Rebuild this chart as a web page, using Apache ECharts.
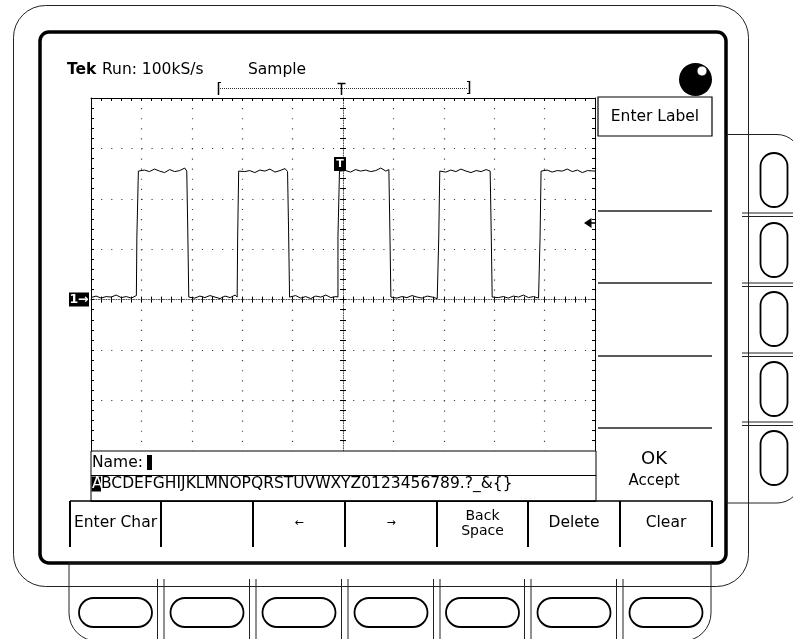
<!DOCTYPE html>
<html>
<head>
<meta charset="utf-8">
<script src="https://cdn.jsdelivr.net/npm/echarts@6/dist/echarts.min.js"></script>
<style>
  html, body { margin: 0; padding: 0; background: #fff; }
  #main { width: 793px; height: 639px; }
</style>
</head>
<body>
<div id="main"></div>
<script>
// trace samples: [time in divisions from centre, level in divisions above ground]
var tracePoints = [
  [-5.00, 0.04], [-4.90, 0.07], [-4.80, 0.03], [-4.70, 0.06], [-4.60, 0.05], [-4.50, 0.09], [-4.40, 0.04], [-4.30, 0.06], [-4.20, 0.03], [-4.10, 0.08],
  [-4.09, 0.05], [-4.09, 1.24], [-4.06, 1.24], [-4.06, 2.55],
  [-4.04, 2.53], [-3.94, 2.57], [-3.84, 2.54], [-3.74, 2.59], [-3.64, 2.55], [-3.54, 2.52], [-3.44, 2.58], [-3.34, 2.54], [-3.24, 2.56], [-3.14, 2.61], [-3.10, 2.55],
  [-3.08, 2.55], [-3.08, 1.38], [-3.06, 1.38], [-3.06, 0.05],
  [-3.04, 0.06], [-2.94, 0.03], [-2.84, 0.07], [-2.74, 0.04], [-2.64, 0.08], [-2.54, 0.05], [-2.44, 0.02], [-2.34, 0.07], [-2.24, 0.04], [-2.14, 0.09], [-2.10, 0.05],
  [-2.09, 0.05], [-2.09, 1.24], [-2.07, 1.24], [-2.07, 2.55],
  [-2.05, 2.58], [-1.95, 2.54], [-1.85, 2.56], [-1.75, 2.52], [-1.65, 2.57], [-1.55, 2.55], [-1.45, 2.59], [-1.35, 2.53], [-1.25, 2.56], [-1.15, 2.60], [-1.10, 2.54],
  [-1.08, 2.54], [-1.08, 1.38], [-1.06, 1.38], [-1.06, 0.05],
  [-1.04, 0.04], [-0.94, 0.08], [-0.84, 0.03], [-0.74, 0.06], [-0.64, 0.02], [-0.54, 0.07], [-0.44, 0.05], [-0.34, 0.09], [-0.24, 0.04], [-0.14, 0.06], [-0.11, 0.03],
  [-0.10, 0.05], [-0.10, 1.24], [-0.07, 1.24], [-0.07, 2.55],
  [-0.05, 2.52], [0.05, 2.56], [0.15, 2.53], [0.25, 2.58], [0.35, 2.55], [0.45, 2.57], [0.55, 2.54], [0.65, 2.56], [0.75, 2.61], [0.85, 2.55], [0.91, 2.58],
  [0.93, 2.58], [0.93, 1.38], [0.95, 1.38], [0.95, 0.05],
  [0.97, 0.07], [1.07, 0.03], [1.17, 0.06], [1.27, 0.04], [1.37, 0.08], [1.47, 0.05], [1.57, 0.03], [1.67, 0.07], [1.77, 0.05], [1.87, 0.02], [1.89, 0.04],
  [1.90, 0.05], [1.90, 1.24], [1.92, 1.24], [1.92, 2.55],
  [1.94, 2.56], [2.04, 2.53], [2.14, 2.57], [2.24, 2.54], [2.34, 2.59], [2.44, 2.55], [2.54, 2.52], [2.64, 2.56], [2.74, 2.54], [2.84, 2.58], [2.92, 2.55],
  [2.94, 2.55], [2.94, 1.38], [2.96, 1.38], [2.96, 0.05],
  [2.98, 0.08], [3.08, 0.04], [3.18, 0.06], [3.28, 0.03], [3.38, 0.07], [3.48, 0.05], [3.58, 0.09], [3.68, 0.04], [3.78, 0.06], [3.88, 0.03], [3.90, 0.05],
  [3.91, 0.05], [3.91, 1.24], [3.93, 1.24], [3.93, 2.55],
  [3.95, 2.54], [4.05, 2.57], [4.15, 2.53], [4.25, 2.56], [4.35, 2.55], [4.45, 2.59], [4.55, 2.54], [4.65, 2.57], [4.75, 2.52], [4.85, 2.56], [5.00, 2.55]
];
// graticule: 10 x 8 divisions, 5 minor ticks per division
var timeRange = [-5, 5];
var levelRange = [-4, 4];
// menu texts
var headerTexts = ['Tek', 'Run: 100kS/s', 'Sample'];
var sideMenuTop = 'Enter Label';
var sideMenuBottom = ['OK', 'Accept'];
var nameLabel = 'Name:';
var charset = 'ABCDEFGHIJKLMNOPQRSTUVWXYZ0123456789.?_&{}';
var bottomMenu = ['Enter Char', '', '\u2190', '\u2192', 'Back\nSpace', 'Delete', 'Clear'];

var FONT = '"DejaVu Sans", sans-serif';
var Z = 100;
var els = [];

function rect(x, y, w, h, r, stroke, lw, fill) {
  els.push({ type: 'rect', z: Z, silent: true,
    shape: { x: x, y: y, width: w, height: h, r: r || 0 },
    style: { stroke: stroke || 'none', lineWidth: lw || 1, fill: fill || 'none' } });
}
function line(x1, y1, x2, y2, lw, color, dash) {
  els.push({ type: 'line', z: Z, silent: true,
    shape: { x1: x1, y1: y1, x2: x2, y2: y2 },
    style: { stroke: color || '#000', lineWidth: lw || 1, lineDash: dash || null } });
}
function text(t, x, y, size, align, color, weight) {
  els.push({ type: 'text', z: Z, silent: true,
    style: { text: t, x: x, y: y, fill: color || '#000',
      font: (weight || 'normal') + ' ' + size + 'px ' + FONT,
      textAlign: align || 'left', align: align || 'left',
      textVerticalAlign: 'middle', verticalAlign: 'middle' } });
}

// outer bezel and screen
rect(13.5, 5.5, 735, 581, 32, '#222', 1);
rect(40, 32, 686, 531, 9, '#000', 3.5);

// right button strip
rect(727, 134.5, 74, 368.5, [0, 24, 24, 0], '#222', 1);
[213, 283, 353, 422].forEach(function (y) {
  line(742, y, 793, y, 1, '#222');
  line(742, y + 3.5, 793, y + 3.5, 1, '#222');
});
[[153, 207], [223, 277], [292, 346], [362, 416], [431, 485]].forEach(function (b) {
  rect(760.5, b[0], 27, b[1] - b[0], 13.5, '#000', 1.8);
});

// bottom button strip
var dividers = [70, 161, 253, 345, 437, 528, 620, 712];
rect(69, 563, 642, 78, [0, 0, 28, 28], '#222', 1);
dividers.slice(1, 7).forEach(function (x) {
  line(x - 3.5, 579, x - 3.5, 641, 1, '#222');
  line(x + 3, 579, x + 3, 641, 1, '#222');
});
for (var i = 0; i < 7; i++) {
  var cx = (dividers[i] + dividers[i + 1]) / 2;
  rect(cx - 36.5, 598, 73, 29, 14.5, '#000', 1.8);
}

// header
text(headerTexts[0], 67, 70, 15.5, 'left', '#000', 'bold');
text(headerTexts[1], 102, 70, 15.5, 'left');
text(headerTexts[2], 248, 70, 15.5, 'left');

// record view bracket with trigger position
line(220, 88.5, 468, 88.5, 1, '#333', [1, 1]);
line(218.5, 82, 218.5, 95, 1.5);
line(218.5, 82.5, 221, 82.5, 1);
line(469.5, 81, 469.5, 94, 1.5);
line(467, 81.5, 469.5, 81.5, 1);
line(467, 93.5, 469.5, 93.5, 1);
line(341.5, 83, 341.5, 95, 1.5);
line(337.5, 83.5, 345.5, 83.5, 1.5);

// knob
els.push({ type: 'circle', z: Z, silent: true, shape: { cx: 695.5, cy: 79.5, r: 16.5 }, style: { fill: '#000' } });
els.push({ type: 'circle', z: Z, silent: true, shape: { cx: 702, cy: 71, r: 5 }, style: { fill: '#fff', stroke: '#000', lineWidth: 0.8 } });

// side menu
rect(598, 97, 114, 39, 0, '#000', 1.2);
text(sideMenuTop, 655, 117, 15.5, 'center');
[211, 283, 356, 428].forEach(function (y) { line(598, y, 712, y, 1.5, '#222'); });
text(sideMenuBottom[0], 654, 459, 18, 'center');
text(sideMenuBottom[1], 654, 481, 15, 'center');

// channel marker, trigger marker, trigger level
rect(69, 292.5, 20, 14, 0, 'none', 1, '#000');
text('1\u2192', 79, 299.5, 12.5, 'center', '#fff', 'bold');
rect(334, 157, 12, 14, 0, 'none', 1, '#000');
text('T', 340, 164.5, 11, 'center', '#fff', 'bold');
els.push({ type: 'polygon', z: Z, silent: true, shape: { points: [[584, 223], [591.5, 218], [591.5, 228]] }, style: { fill: '#000' } });
line(591, 223, 596, 223, 1.5);

// name entry panel covering the bottom division
rect(91, 451, 505, 50, 0, '#000', 1, '#fff');
line(91, 475.5, 596, 475.5, 1);
text(nameLabel, 92, 463, 15.5, 'left');
rect(147, 455, 5, 15, 0, 'none', 1, '#000');
rect(91.5, 476.5, 9.5, 15, 0, 'none', 1, '#000');
text(charset.charAt(0), 92, 484, 15.5, 'left', '#fff');
els.push({ type: 'text', z: Z, silent: true,
  style: { text: charset.slice(1), x: 101, y: 484, fill: '#000', font: '15.5px ' + FONT,
    textAlign: 'left', align: 'left', textVerticalAlign: 'middle', verticalAlign: 'middle' } });

// bottom menu
line(70, 501, 712, 501, 1.5);
dividers.forEach(function (x) { line(x, 501, x, 547, 2); });
bottomMenu.forEach(function (t, k) {
  var cx = (dividers[k] + dividers[k + 1]) / 2;
  if (t === '\u2190' || t === '\u2192') {
    text(t, cx, 523, 11, 'center');
  } else if (t.indexOf('\n') >= 0) {
    var parts = t.split('\n');
    text(parts[0], cx, 516, 14, 'center');
    text(parts[1], cx, 531, 14, 'center');
  } else if (t) {
    text(t, cx, 523, 15.5, 'center');
  }
});

var gridDots = { color: '#444', width: 1.2, type: [1.2, 8.88] };
function timeAxis(pos, offset, opts) {
  return Object.assign({
    type: 'value', min: timeRange[0], max: timeRange[1], interval: 1,
    position: pos, offset: offset || 0,
    axisLine: { show: true, onZero: false, lineStyle: { color: '#000', width: 1 } },
    axisTick: { show: true, inside: true, length: 3, lineStyle: { color: '#000' } },
    minorTick: { show: true, splitNumber: 5, length: 3, lineStyle: { color: '#000' } },
    axisLabel: { show: false },
    splitLine: { show: false }
  }, opts || {});
}
function levelAxis(pos, offset, opts) {
  return Object.assign({
    type: 'value', min: levelRange[0], max: levelRange[1], interval: 1,
    position: pos, offset: offset || 0,
    axisLine: { show: true, onZero: false, lineStyle: { color: '#000', width: 1 } },
    axisTick: { show: true, inside: true, length: 3, lineStyle: { color: '#000' } },
    minorTick: { show: true, splitNumber: 5, length: 3, lineStyle: { color: '#000' } },
    axisLabel: { show: false },
    splitLine: { show: false }
  }, opts || {});
}
var centreLine = { show: true, onZero: false, lineStyle: { color: '#555', width: 1, type: [1, 1.5] } };
var outsideTick = { show: true, inside: false, length: 3, lineStyle: { color: '#000' } };

var myChart = echarts.init(document.getElementById('main'), null, { renderer: 'canvas' });
myChart.setOption({
  animation: false,
  backgroundColor: '#fff',
  grid: { left: 91, top: 98, width: 504, height: 403.2, containLabel: false },
  xAxis: [
    timeAxis('bottom', 0, { splitLine: { show: true, lineStyle: gridDots } }),
    timeAxis('top', 0),
    timeAxis('bottom', -201.6, { axisLine: centreLine }),
    timeAxis('bottom', -201.6, { axisLine: { show: false, onZero: false }, axisTick: outsideTick })
  ],
  yAxis: [
    levelAxis('left', 0, { splitLine: { show: true, lineStyle: gridDots } }),
    levelAxis('right', 0),
    levelAxis('left', -252, { axisLine: centreLine }),
    levelAxis('left', -252, { axisLine: { show: false, onZero: false }, axisTick: outsideTick })
  ],
  graphic: { elements: els },
  series: [{
    type: 'line',
    xAxisIndex: 0,
    yAxisIndex: 0,
    data: tracePoints,
    symbol: 'none',
    showSymbol: false,
    lineStyle: { color: '#000', width: 1 },
    z: 3
  }]
});
</script>
</body>
</html>
